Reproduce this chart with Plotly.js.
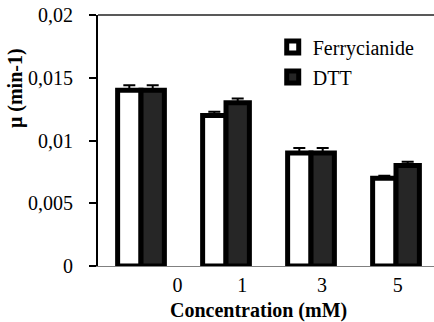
<!DOCTYPE html>
<html>
<head>
<meta charset="utf-8">
<script src="https://cdn.plot.ly/plotly-3.0.1.min.js"></script>
<style>html,body{margin:0;padding:0;background:#fff}#chart{width:434px;height:322px}</style>
</head>
<body>
<div id="chart"></div>
<script>
var categories = ['0', '1', '3', '5'];
var ferrycianide = [0.014, 0.012, 0.009, 0.007];
var ferrycianideErr = [0.0004, 0.0003, 0.0004, 0.0002];
var dtt = [0.014, 0.013, 0.009, 0.008];
var dttErr = [0.0004, 0.00035, 0.0004, 0.0003];
var tickLabelPos = [0.43, 1.19, 2.13, 3.02];
var yTicks = [0, 0.005, 0.01, 0.015, 0.02];

var serif = '"Liberation Serif", "DejaVu Serif", serif';
var fs = 20;
var xRange = [-0.506, 3.447];

var idx = categories.map(function (c, i) { return i; });
var noMinus = categories.map(function () { return 0; });

var traces = [
  {
    type: 'bar', name: 'Ferrycianide', x: idx, y: ferrycianide,
    legendgroup: 'a', cliponaxis: false,
    marker: {color: '#ffffff', line: {color: '#000000', width: 5}},
    error_y: {type: 'data', symmetric: false, array: ferrycianideErr, arrayminus: noMinus,
              visible: true, color: '#000000', thickness: 2, width: 6}
  },
  {
    type: 'bar', name: 'DTT', x: idx, y: dtt,
    legendgroup: 'b', cliponaxis: false,
    marker: {color: '#262626', line: {color: '#000000', width: 5}},
    error_y: {type: 'data', symmetric: false, array: dttErr, arrayminus: noMinus,
              visible: true, color: '#000000', thickness: 2, width: 6}
  },
  {
    type: 'scatter', x: [], y: [], xaxis: 'x2', showlegend: false, hoverinfo: 'skip'
  }
];

var layout = {
  width: 434, height: 322,
  margin: {l: 98, r: 0, t: 15, b: 56},
  paper_bgcolor: '#ffffff', plot_bgcolor: '#ffffff',
  separators: ', ',
  font: {family: serif, size: fs, color: '#000000'},
  barmode: 'group',
  bargap: 0.45, bargroupgap: 0,
  showlegend: true,
  legend: {
    x: 0.52, y: 0.95, xanchor: 'left', yanchor: 'top',
    font: {family: serif, size: fs, color: '#000000'},
    bgcolor: 'rgba(0,0,0,0)', tracegroupgap: 1
  },
  xaxis: {
    range: xRange, showticklabels: false, ticks: '',
    showline: true, linecolor: '#808080', linewidth: 1,
    showgrid: false, zeroline: false, fixedrange: true
  },
  xaxis2: {
    overlaying: 'x', anchor: 'y', side: 'bottom', type: 'linear',
    range: xRange, tickmode: 'array', tickvals: tickLabelPos, ticktext: categories,
    ticks: '', ticklabelstandoff: 5, showline: false, showgrid: false, zeroline: false,
    tickfont: {family: serif, size: fs, color: '#000000'}
  },
  yaxis: {
    range: [0, 0.02], tickmode: 'array', tickvals: yTicks,
    showline: true, linecolor: '#000000', linewidth: 2,
    ticks: 'outside', ticklen: 7, tickwidth: 2, tickcolor: '#000000',
    ticklabelstandoff: 12,
    showgrid: false, zeroline: false,
    tickfont: {family: serif, size: fs, color: '#000000'}
  },
  shapes: [
    {type: 'line', xref: 'paper', yref: 'paper', x0: 0, x1: 1, y0: 1, y1: 1,
     line: {color: '#595959', width: 2}}
  ],
  annotations: [
    {text: '<b>μ (min-1)</b>', xref: 'paper', yref: 'paper', x: -0.247, y: 0.709,
     xanchor: 'center', yanchor: 'middle',
     textangle: -90, showarrow: false, font: {family: serif, size: fs, color: '#000000'}},
    {text: '<b>Concentration (mM)</b>', xref: 'paper', yref: 'paper', x: 0.478, y: -0.179,
     xanchor: 'center', yanchor: 'middle',
     showarrow: false, font: {family: serif, size: fs, color: '#000000'}}
  ]
};

Plotly.newPlot('chart', traces, layout, {displayModeBar: false, staticPlot: true});
</script>
</body>
</html>
